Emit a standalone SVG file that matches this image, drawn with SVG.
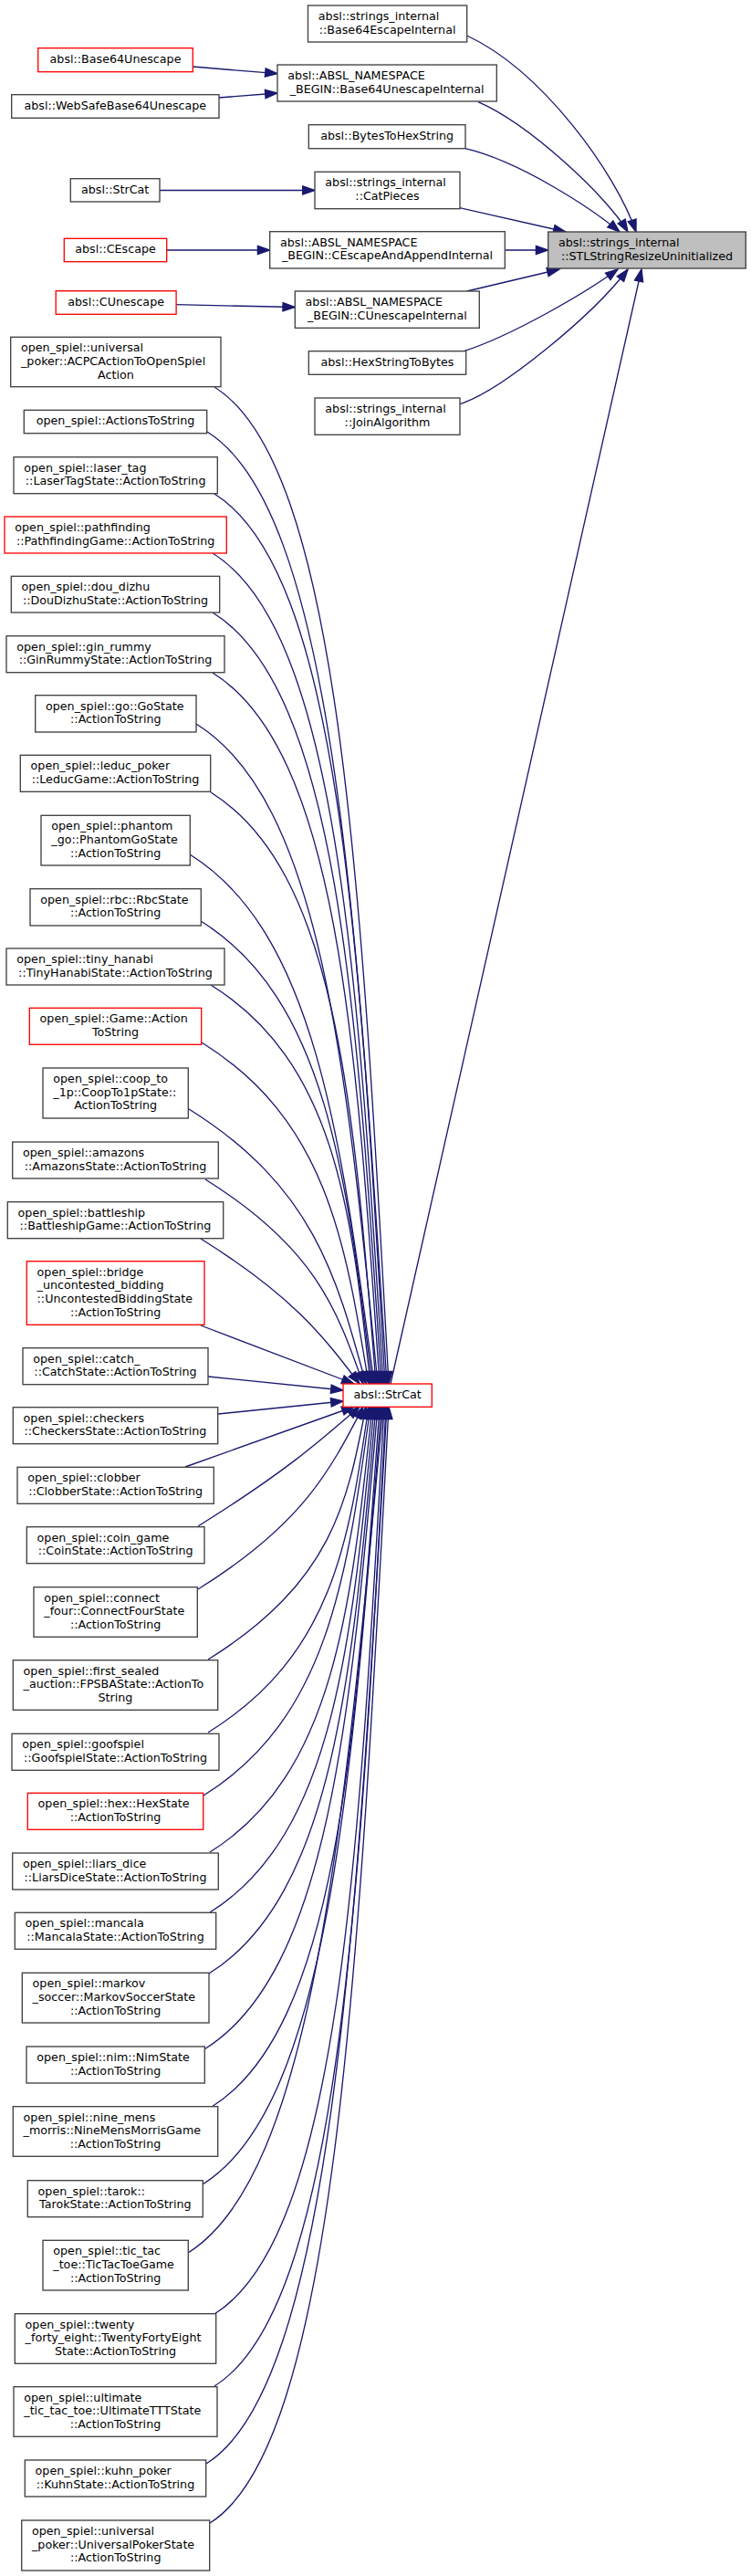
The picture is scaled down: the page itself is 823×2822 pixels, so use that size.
<svg xmlns="http://www.w3.org/2000/svg" width="823" height="2822" viewBox="0 0 823 2822">
<style>
.n{fill:#fff;stroke:#404040;stroke-width:1.33}
.r{fill:#fff;stroke:#ff0000;stroke-width:1.33}
.root{fill:#bfbfbf;stroke:#404040;stroke-width:1.33}
text{font-family:"DejaVu Sans","Liberation Sans",sans-serif;font-size:12.7px;fill:#000}
.l{text-anchor:start}
.m{text-anchor:middle}
.e{fill:none;stroke:#191970;stroke-width:1.33;marker-end:url(#ah)}
</style>
<defs>
<marker id="ah" markerUnits="userSpaceOnUse" markerWidth="20" markerHeight="20" refX="13.3" refY="4.67" orient="auto" overflow="visible"><path d="M0,0 L13.3,4.67 L0,9.33 Z" fill="#191970" stroke="#191970" stroke-width="1.33"/></marker>
</defs>
<rect width="823" height="2822" fill="#fff"/>
<g id="connectors">
<path class="e" d="M211.3,73 L304,80.7"/>
<path class="e" d="M240,107 L304,102"/>
<path class="e" d="M175,208.5 L345,208.5"/>
<path class="e" d="M182.7,274 L295.7,274"/>
<path class="e" d="M193,333.7 L323.3,336.5"/>
<path class="e" d="M511.7,39 C595,78 675,190 697,254"/>
<path class="e" d="M524,111.7 C580,136 665,215 688,254"/>
<path class="e" d="M510,162.7 C570,177 648,228 679,254"/>
<path class="e" d="M504,227.7 L620,254"/>
<path class="e" d="M553.3,274 L600.7,274"/>
<path class="e" d="M511.7,319 L613,295"/>
<path class="e" d="M508.3,384.7 C560,368 640,322 677,295"/>
<path class="e" d="M504,442.7 C550,428 650,345 688,295"/>
<path class="e" d="M428,1516 L703,295"/>
<path class="e" d="M235,424 C371,509 395.8,961.8 426,1516"/>
<path class="e" d="M227,473 C363,557.8 390.5,989 424,1516"/>
<path class="e" d="M235,541 C371,625.8 394,1026.4 422,1516"/>
<path class="e" d="M233,606 C369,690.8 392,1062.1 420,1516"/>
<path class="e" d="M233,671 C369,755.8 391,1097.9 418,1516"/>
<path class="e" d="M233,737 C369,821.8 390.2,1134.2 416,1516"/>
<path class="e" d="M215,793 C351,877.8 379.4,1164.1 414,1516"/>
<path class="e" d="M231,868 C367,952.8 387.3,1201.2 412,1516"/>
<path class="e" d="M208,936 C344,1020.8 373.7,1243.6 410,1516"/>
<path class="e" d="M220,1009 C356,1093.8 379.4,1283.5 408,1516"/>
<path class="e" d="M231,1079 C367,1163.8 384.6,1322.3 406,1516"/>
<path class="e" d="M221,1142 C357,1226.8 378.2,1357.7 404,1516"/>
<path class="e" d="M207,1215 C343,1299.8 369.1,1398.2 401,1516"/>
<path class="e" d="M225,1292 C345.3,1367 369.1,1434 398,1516"/>
<path class="e" d="M220,1357 C320.3,1419.5 353.5,1462.9 394,1516"/>
<path class="e" d="M220,1452 L388,1516"/>
<path class="e" d="M228,1508 L376,1523"/>
<path class="e" d="M239,1549 L376,1535"/>
<path class="e" d="M203,1607 L388,1541"/>
<path class="e" d="M217,1672 C310.5,1613.7 348.1,1581 394,1541"/>
<path class="e" d="M217,1741 C331.8,1669.5 361.6,1611.1 398,1541"/>
<path class="e" d="M228,1818 C364,1733.2 380.7,1646.7 401,1541"/>
<path class="e" d="M228,1898 C364,1813.2 382,1691.3 404,1541"/>
<path class="e" d="M223,1967 C359,1882.2 380.2,1729.4 406,1541"/>
<path class="e" d="M230,2029 C366,1944.2 384.9,1762.8 408,1541"/>
<path class="e" d="M230,2095 C366,2010.2 385.8,1799.3 410,1541"/>
<path class="e" d="M229,2162 C365,2077.2 386.2,1835.9 412,1541"/>
<path class="e" d="M224,2245 C360,2160.2 384.3,1881.5 414,1541"/>
<path class="e" d="M232,2308 C368,2223.2 389.6,1916.2 416,1541"/>
<path class="e" d="M222,2393 C358,2308.2 385,1963.1 418,1541"/>
<path class="e" d="M206,2468 C342,2383.2 377.1,2004.2 420,1541"/>
<path class="e" d="M235,2535 C371,2450.2 393.5,2039.1 421,1541"/>
<path class="e" d="M235,2614 C371,2529.2 394.4,2083.4 423,1541"/>
<path class="e" d="M226,2699 C362,2614.2 389.9,2131.2 424,1541"/>
<path class="e" d="M230,2764 C366,2679.2 393,2167.9 426,1541"/>
</g>
<g id="n_b64esc"><rect class="n" x="337.5" y="6" width="174.2" height="40"/><text class="l" x="348.8" y="22">absl::strings_internal</text><text class="m" x="424.6" y="36.7">::Base64EscapeInternal</text></g>
<g id="n_b64unesc"><rect class="r" x="41.7" y="52.7" width="169.6" height="26"/><text class="m" x="126.5" y="68.7">absl::Base64Unescape</text></g>
<g id="n_websafe"><rect class="n" x="12.7" y="103.7" width="227.3" height="25.6"/><text class="m" x="126.35" y="119.7">absl::WebSafeBase64Unescape</text></g>
<g id="n_b64unescint"><rect class="n" x="304" y="71" width="240.3" height="40"/><text class="l" x="315.3" y="87">absl::ABSL_NAMESPACE</text><text class="m" x="424.15" y="101.7">_BEGIN::Base64UnescapeInternal</text></g>
<g id="n_bytes2hex"><rect class="n" x="338.3" y="136.7" width="171.7" height="26"/><text class="m" x="424.15" y="152.7">absl::BytesToHexString</text></g>
<g id="n_strcat_top"><rect class="n" x="77.3" y="195.7" width="97.7" height="25.3"/><text class="m" x="126.15" y="211.7">absl::StrCat</text></g>
<g id="n_catpieces"><rect class="n" x="345" y="188.3" width="159" height="40.4"/><text class="l" x="356.3" y="204.3">absl::strings_internal</text><text class="m" x="424.5" y="219">::CatPieces</text></g>
<g id="n_cescape"><rect class="r" x="70.3" y="261.3" width="112.4" height="25.4"/><text class="m" x="126.5" y="277.3">absl::CEscape</text></g>
<g id="n_cescapeapp"><rect class="n" x="295.7" y="253.7" width="257.6" height="40.3"/><text class="l" x="307" y="269.7">absl::ABSL_NAMESPACE</text><text class="m" x="424.5" y="284.4">_BEGIN::CEscapeAndAppendInternal</text></g>
<g id="n_target"><rect class="root" x="600.7" y="254" width="216.6" height="40"/><text class="l" x="612" y="270">absl::strings_internal</text><text class="m" x="709" y="284.7">::STLStringResizeUninitialized</text></g>
<g id="n_cunescape"><rect class="r" x="61.2" y="318.7" width="131.9" height="25.6"/><text class="m" x="127.15" y="334.7">absl::CUnescape</text></g>
<g id="n_cunescint"><rect class="n" x="323.3" y="319" width="202" height="40.3"/><text class="l" x="334.6" y="335">absl::ABSL_NAMESPACE</text><text class="m" x="424.3" y="349.7">_BEGIN::CUnescapeInternal</text></g>
<g id="n_hex2bytes"><rect class="n" x="338.3" y="384.7" width="172.4" height="25.6"/><text class="m" x="424.5" y="400.7">absl::HexStringToBytes</text></g>
<g id="n_join"><rect class="n" x="345" y="436" width="159" height="40.3"/><text class="l" x="356.3" y="452">absl::strings_internal</text><text class="m" x="424.5" y="466.7">::JoinAlgorithm</text></g>
<g id="n_strcat"><rect class="r" x="376" y="1516" width="97.3" height="25.3"/><text class="m" x="424.65" y="1532">absl::StrCat</text></g>
<g id="n_acpc"><rect class="n" x="11.7" y="369.3" width="230.3" height="54.4"/><text class="l" x="23" y="385.3">open_spiel::universal</text><text class="l" x="23" y="400">_poker::ACPCActionToOpenSpiel</text><text class="m" x="126.85" y="414.7">Action</text></g>
<g id="n_actions"><rect class="n" x="26.3" y="449.3" width="200.4" height="25.4"/><text class="m" x="126.5" y="465.3">open_spiel::ActionsToString</text></g>
<g id="n_laser"><rect class="n" x="15" y="500.7" width="223.3" height="40"/><text class="l" x="26.3" y="516.7">open_spiel::laser_tag</text><text class="m" x="126.65" y="531.4">::LaserTagState::ActionToString</text></g>
<g id="n_path"><rect class="r" x="5" y="566" width="243.3" height="40"/><text class="l" x="16.3" y="582">open_spiel::pathfinding</text><text class="m" x="126.65" y="596.7">::PathfindingGame::ActionToString</text></g>
<g id="n_dou"><rect class="n" x="12.3" y="631.3" width="228.4" height="39.7"/><text class="l" x="23.6" y="647.3">open_spiel::dou_dizhu</text><text class="m" x="126.5" y="662">::DouDizhuState::ActionToString</text></g>
<g id="n_gin"><rect class="n" x="7" y="696.7" width="239" height="40"/><text class="l" x="18.3" y="712.7">open_spiel::gin_rummy</text><text class="m" x="126.5" y="727.4">::GinRummyState::ActionToString</text></g>
<g id="n_go"><rect class="n" x="38.7" y="761.7" width="176.3" height="40.3"/><text class="l" x="50" y="777.7">open_spiel::go::GoState</text><text class="m" x="126.85" y="792.4">::ActionToString</text></g>
<g id="n_leduc"><rect class="n" x="22.3" y="827.3" width="208.4" height="40"/><text class="l" x="33.6" y="843.3">open_spiel::leduc_poker</text><text class="m" x="126.5" y="858">::LeducGame::ActionToString</text></g>
<g id="n_phantom"><rect class="n" x="45" y="893.3" width="163.3" height="54.7"/><text class="l" x="56.3" y="909.3">open_spiel::phantom</text><text class="l" x="56.3" y="924">_go::PhantomGoState</text><text class="m" x="126.65" y="938.7">::ActionToString</text></g>
<g id="n_rbc"><rect class="n" x="33" y="973.7" width="187.3" height="40.3"/><text class="l" x="44.3" y="989.7">open_spiel::rbc::RbcState</text><text class="m" x="126.65" y="1004.4">::ActionToString</text></g>
<g id="n_tiny"><rect class="n" x="7" y="1039" width="239" height="40"/><text class="l" x="18.3" y="1055">open_spiel::tiny_hanabi</text><text class="m" x="126.5" y="1069.7">::TinyHanabiState::ActionToString</text></g>
<g id="n_game"><rect class="r" x="32.3" y="1104.3" width="188.4" height="40"/><text class="l" x="43.6" y="1120.3">open_spiel::Game::Action</text><text class="m" x="126.5" y="1135">ToString</text></g>
<g id="n_coop"><rect class="n" x="47" y="1170" width="159.3" height="55"/><text class="l" x="58.3" y="1186">open_spiel::coop_to</text><text class="l" x="58.3" y="1200.7">_1p::CoopTo1pState::</text><text class="m" x="126.65" y="1215.3">ActionToString</text></g>
<g id="n_amazons"><rect class="n" x="13.7" y="1251" width="225.6" height="40"/><text class="l" x="25" y="1267">open_spiel::amazons</text><text class="m" x="126.5" y="1281.7">::AmazonsState::ActionToString</text></g>
<g id="n_battleship"><rect class="n" x="8.3" y="1316.7" width="236.4" height="40"/><text class="l" x="19.6" y="1332.7">open_spiel::battleship</text><text class="m" x="126.5" y="1347.4">::BattleshipGame::ActionToString</text></g>
<g id="n_bridge"><rect class="r" x="29.3" y="1381.7" width="194.7" height="69.6"/><text class="l" x="40.6" y="1397.7">open_spiel::bridge</text><text class="l" x="40.6" y="1412.4">_uncontested_bidding</text><text class="l" x="40.6" y="1427">::UncontestedBiddingState</text><text class="m" x="126.65" y="1441.7">::ActionToString</text></g>
<g id="n_catch"><rect class="n" x="25" y="1476.7" width="203" height="40"/><text class="l" x="36.3" y="1492.7">open_spiel::catch_</text><text class="m" x="126.5" y="1507.4">::CatchState::ActionToString</text></g>
<g id="n_checkers"><rect class="n" x="14.3" y="1541.7" width="224.4" height="40"/><text class="l" x="25.6" y="1557.7">open_spiel::checkers</text><text class="m" x="126.5" y="1572.4">::CheckersState::ActionToString</text></g>
<g id="n_clobber"><rect class="n" x="19" y="1607.3" width="215.3" height="40"/><text class="l" x="30.3" y="1623.3">open_spiel::clobber</text><text class="m" x="126.65" y="1638">::ClobberState::ActionToString</text></g>
<g id="n_coin"><rect class="n" x="29.3" y="1672.7" width="194.7" height="40"/><text class="l" x="40.6" y="1688.7">open_spiel::coin_game</text><text class="m" x="126.65" y="1703.4">::CoinState::ActionToString</text></g>
<g id="n_connect"><rect class="n" x="37" y="1738.7" width="179.3" height="54.6"/><text class="l" x="48.3" y="1754.7">open_spiel::connect</text><text class="l" x="48.3" y="1769.4">_four::ConnectFourState</text><text class="m" x="126.65" y="1784">::ActionToString</text></g>
<g id="n_fpsba"><rect class="n" x="14.3" y="1818.7" width="224.4" height="54.6"/><text class="l" x="25.6" y="1834.7">open_spiel::first_sealed</text><text class="l" x="25.6" y="1849.4">_auction::FPSBAState::ActionTo</text><text class="m" x="126.5" y="1864">String</text></g>
<g id="n_goof"><rect class="n" x="13" y="1899.3" width="227" height="40"/><text class="l" x="24.3" y="1915.3">open_spiel::goofspiel</text><text class="m" x="126.5" y="1930">::GoofspielState::ActionToString</text></g>
<g id="n_hex"><rect class="r" x="30.3" y="1964.3" width="192.4" height="40"/><text class="l" x="41.6" y="1980.3">open_spiel::hex::HexState</text><text class="m" x="126.5" y="1995">::ActionToString</text></g>
<g id="n_liars"><rect class="n" x="13.7" y="2030" width="225.6" height="40"/><text class="l" x="25" y="2046">open_spiel::liars_dice</text><text class="m" x="126.5" y="2060.7">::LiarsDiceState::ActionToString</text></g>
<g id="n_mancala"><rect class="n" x="16.3" y="2095.3" width="220.4" height="40"/><text class="l" x="27.6" y="2111.3">open_spiel::mancala</text><text class="m" x="126.5" y="2126">::MancalaState::ActionToString</text></g>
<g id="n_markov"><rect class="n" x="24.3" y="2161.3" width="204.7" height="54.7"/><text class="l" x="35.6" y="2177.3">open_spiel::markov</text><text class="l" x="35.6" y="2192">_soccer::MarkovSoccerState</text><text class="m" x="126.65" y="2206.7">::ActionToString</text></g>
<g id="n_nim"><rect class="n" x="29" y="2242" width="195.3" height="40"/><text class="l" x="40.3" y="2258">open_spiel::nim::NimState</text><text class="m" x="126.65" y="2272.7">::ActionToString</text></g>
<g id="n_nine"><rect class="n" x="14.3" y="2307.7" width="224.4" height="54.6"/><text class="l" x="25.6" y="2323.7">open_spiel::nine_mens</text><text class="l" x="25.6" y="2338.4">_morris::NineMensMorrisGame</text><text class="m" x="126.5" y="2353">::ActionToString</text></g>
<g id="n_tarok"><rect class="n" x="30.3" y="2388.7" width="192" height="40"/><text class="l" x="41.6" y="2404.7">open_spiel::tarok::</text><text class="m" x="126.3" y="2419.4">TarokState::ActionToString</text></g>
<g id="n_tictac"><rect class="n" x="47" y="2454.3" width="159.3" height="54.7"/><text class="l" x="58.3" y="2470.3">open_spiel::tic_tac</text><text class="l" x="58.3" y="2485">_toe::TicTacToeGame</text><text class="m" x="126.65" y="2499.7">::ActionToString</text></g>
<g id="n_twenty"><rect class="n" x="16.3" y="2534.7" width="220.4" height="54.6"/><text class="l" x="27.6" y="2550.7">open_spiel::twenty</text><text class="l" x="27.6" y="2565.4">_forty_eight::TwentyFortyEight</text><text class="m" x="126.5" y="2580">State::ActionToString</text></g>
<g id="n_ultimate"><rect class="n" x="15" y="2614.7" width="223" height="54.6"/><text class="l" x="26.3" y="2630.7">open_spiel::ultimate</text><text class="l" x="26.3" y="2645.4">_tic_tac_toe::UltimateTTTState</text><text class="m" x="126.5" y="2660">::ActionToString</text></g>
<g id="n_kuhn"><rect class="n" x="27.3" y="2695" width="198.4" height="40"/><text class="l" x="38.6" y="2711">open_spiel::kuhn_poker</text><text class="m" x="126.5" y="2725.7">::KuhnState::ActionToString</text></g>
<g id="n_upoker"><rect class="n" x="23.7" y="2761" width="206" height="55"/><text class="l" x="35" y="2777">open_spiel::universal</text><text class="l" x="35" y="2791.7">_poker::UniversalPokerState</text><text class="m" x="126.7" y="2806.3">::ActionToString</text></g>
</svg>
